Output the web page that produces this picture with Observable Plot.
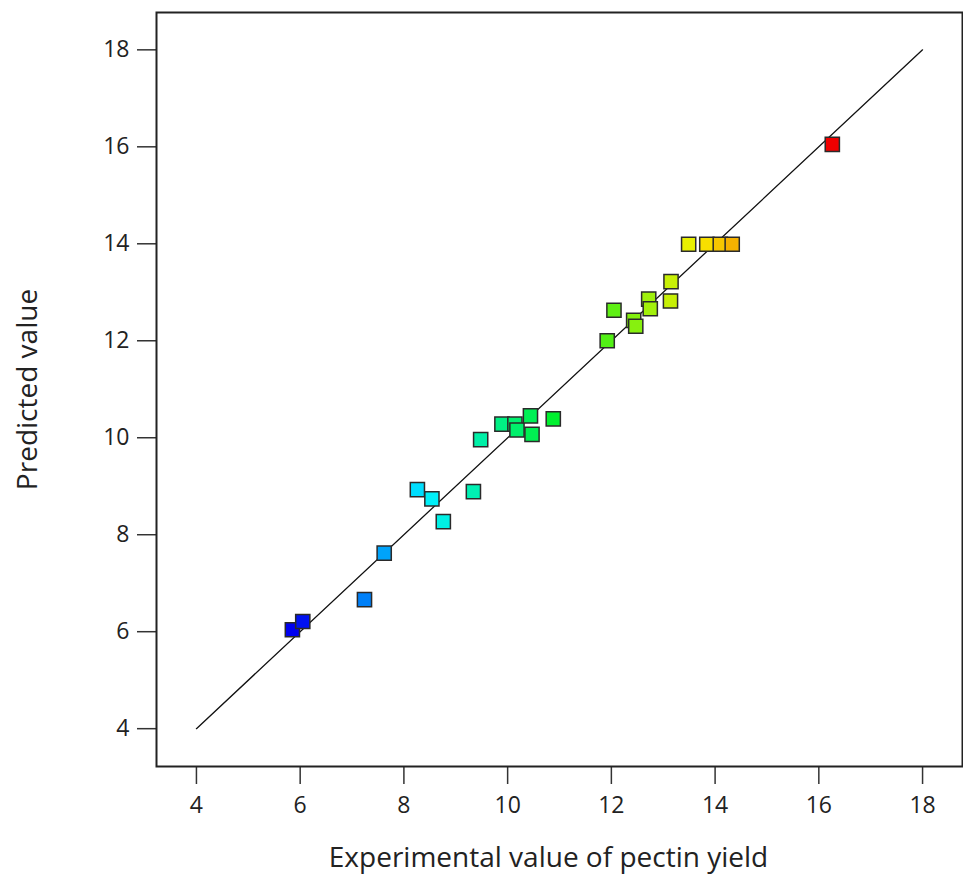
<!DOCTYPE html>
<html>
<head>
<meta charset="utf-8">
<script src="https://cdn.jsdelivr.net/npm/d3@7"></script>
<script src="https://cdn.jsdelivr.net/npm/@observablehq/plot@0.6"></script>
<style>
  html, body { margin: 0; padding: 0; background: #fff; }
  #chart svg { display: block; }
</style>
</head>
<body>
<div id="chart"></div>
<script>
const actual    = [5.85, 6.05, 7.24, 7.62, 8.26, 8.54, 8.76, 9.34, 9.48, 9.89, 10.14, 10.18, 10.44, 10.47, 10.88, 11.92, 12.05, 12.43, 12.47, 12.72, 12.75, 13.14, 13.15, 13.49, 13.84, 14.10, 14.33, 16.26];
const predicted = [6.04, 6.21, 6.66, 7.62, 8.93, 8.74, 8.27, 8.89, 9.96, 10.28, 10.28, 10.16, 10.45, 10.07, 10.39, 12.00, 12.63, 12.42, 12.30, 12.86, 12.66, 12.82, 13.22, 13.99, 13.99, 13.99, 13.99, 16.05];
const diagonal  = [4, 18];
const ticks     = [4, 6, 8, 10, 12, 14, 16, 18];
const xLabel = "Experimental value of pectin yield";
const yLabel = "Predicted value";

const points = actual.map((a, i) => ({actual: a, predicted: predicted[i]}));
const lo = d3.min(actual), hi = d3.max(actual);
const colorDomain = d3.range(5).map(i => lo + (hi - lo) * i / 4);

const font = "'Open Sans', 'Noto Sans', sans-serif";

const chart = Plot.plot({
  width: 963,
  height: 877,
  marginLeft: 156,
  marginRight: 1,
  marginTop: 12,
  marginBottom: 111,
  style: {fontFamily: font, fontSize: "23px", color: "#222", background: "#fff"},
  x: {domain: [3.23, 18.77], ticks: ticks},
  y: {domain: [3.22, 18.77], ticks: ticks},
  color: {type: "linear", domain: colorDomain, range: ["#0000f0", "#00f0ff", "#00f020", "#f8f000", "#f00000"]},
  marks: [
    Plot.axisX({ticks: ticks, tickSize: 18, tickPadding: 12, stroke: "#333", strokeWidth: 1.5,
      label: xLabel, labelAnchor: "center", labelArrow: "none", labelOffset: 100,
      fontSize: 23}),
    Plot.axisY({ticks: ticks, tickSize: 19, tickPadding: 8, stroke: "#333", strokeWidth: 1.5,
      label: yLabel, labelAnchor: "center", labelArrow: "none", labelOffset: 139,
      fontSize: 23}),
    Plot.frame({stroke: "#222", strokeWidth: 2}),
    Plot.line(diagonal, {x: d => d, y: d => d, stroke: "#111", strokeWidth: 1.3}),
    Plot.dot(points, {x: "actual", y: "predicted", symbol: "square", r: 8,
      fill: d => d.actual, stroke: "#2a2a2a", strokeWidth: 1.5})
  ]
});
document.getElementById("chart").appendChild(chart);
// enlarge axis titles
chart.querySelectorAll("[aria-label$='axis label'] text, [aria-label$='axis label']").forEach(el => {
  el.setAttribute("font-size", "28");
});
chart.querySelectorAll("[aria-label='x-axis label'] text").forEach(el => el.setAttribute("dx", "-11"));
</script>
</body>
</html>
